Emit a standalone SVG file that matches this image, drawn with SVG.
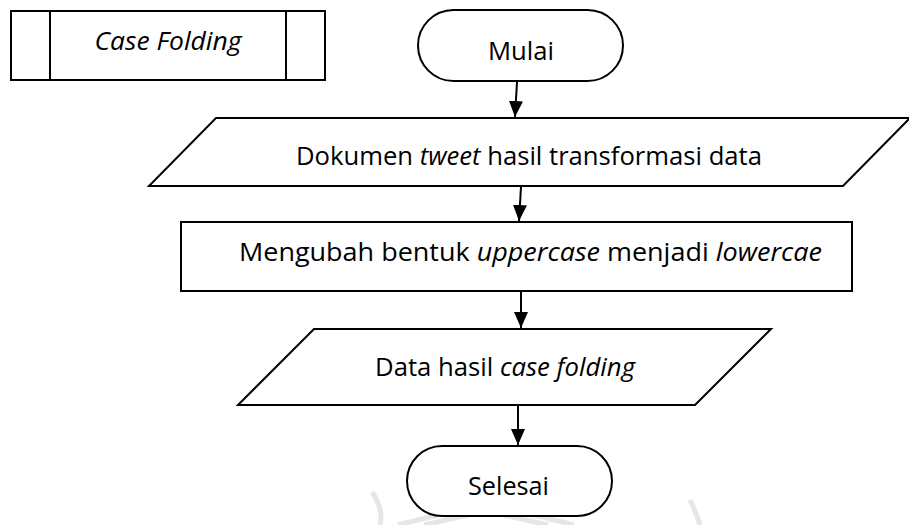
<svg xmlns="http://www.w3.org/2000/svg" width="909" height="525" viewBox="0 0 909 525">
  <style>
    .shape { fill: #ffffff; stroke: #000000; stroke-width: 2; }
    .edge { fill: none; stroke: #000000; stroke-width: 2; }
    .label { font-family: "Open Sans", "Noto Sans", "Liberation Sans", sans-serif; font-size: 25px; fill: #000000; text-anchor: middle; }
    .it { font-style: italic; }
    .mark { fill: none; stroke: #e6e6e6; stroke-width: 5; }
  </style>
  <defs>
    <marker id="arrow" markerUnits="userSpaceOnUse" markerWidth="16" markerHeight="16" refX="16" refY="7" orient="auto">
      <path d="M0,0 L16,7 L0,14 Z" fill="#000000"/>
    </marker>
  </defs>

  <rect width="909" height="525" fill="#ffffff"/>

  <!-- faint background emblem -->
  <g id="emblem">
    <path class="mark" d="M398,525 L486,503 L574,525"/>
    <path class="mark" d="M424,525 L486,511 L548,525"/>
    <path class="mark" d="M372,492 Q384,510 380,525"/>
    <path class="mark" d="M690,500 Q696,512 700,525"/>
  </g>

  <!-- predefined process title -->
  <g id="case-folding">
    <rect class="shape" x="11" y="11" width="314" height="69"/>
    <line class="edge" x1="50" y1="11" x2="50" y2="80"/>
    <line class="edge" x1="286" y1="11" x2="286" y2="80"/>
    <text class="label it" x="168" y="49.5" textLength="147" lengthAdjust="spacingAndGlyphs">Case Folding</text>
  </g>

  <g id="mulai">
    <rect class="shape" x="418" y="10" width="205" height="71" rx="35.5" ry="35.5"/>
    <text class="label" x="521" y="60" textLength="66" lengthAdjust="spacingAndGlyphs">Mulai</text>
  </g>

  <g id="input-dokumen">
    <polygon class="shape" points="216,118 910,118 843,186 149,186"/>
    <text class="label" x="529" y="165" textLength="466" lengthAdjust="spacingAndGlyphs">Dokumen <tspan class="it">tweet</tspan> hasil transformasi data</text>
  </g>

  <g id="proses-ubah">
    <rect class="shape" x="181" y="222" width="671" height="69"/>
    <text class="label" x="530.5" y="261" textLength="583" lengthAdjust="spacingAndGlyphs">Mengubah bentuk <tspan class="it">uppercase</tspan> menjadi <tspan class="it">lowercae</tspan></text>
  </g>

  <g id="output-data">
    <polygon class="shape" points="314,329 771,329 695,405 238,405"/>
    <text class="label" x="505" y="376" textLength="260" lengthAdjust="spacingAndGlyphs">Data hasil <tspan class="it">case folding</tspan></text>
  </g>

  <g id="selesai">
    <rect class="shape" x="407" y="446" width="205" height="70" rx="35" ry="35"/>
    <text class="label" x="508.5" y="495" textLength="81" lengthAdjust="spacingAndGlyphs">Selesai</text>
  </g>

  <g id="connectors">
    <line class="edge" x1="517" y1="82" x2="515" y2="117" marker-end="url(#arrow)"/>
    <line class="edge" x1="521" y1="187" x2="519" y2="221" marker-end="url(#arrow)"/>
    <line class="edge" x1="521" y1="292" x2="521" y2="328" marker-end="url(#arrow)"/>
    <line class="edge" x1="518" y1="406" x2="518" y2="445" marker-end="url(#arrow)"/>
  </g>
</svg>
